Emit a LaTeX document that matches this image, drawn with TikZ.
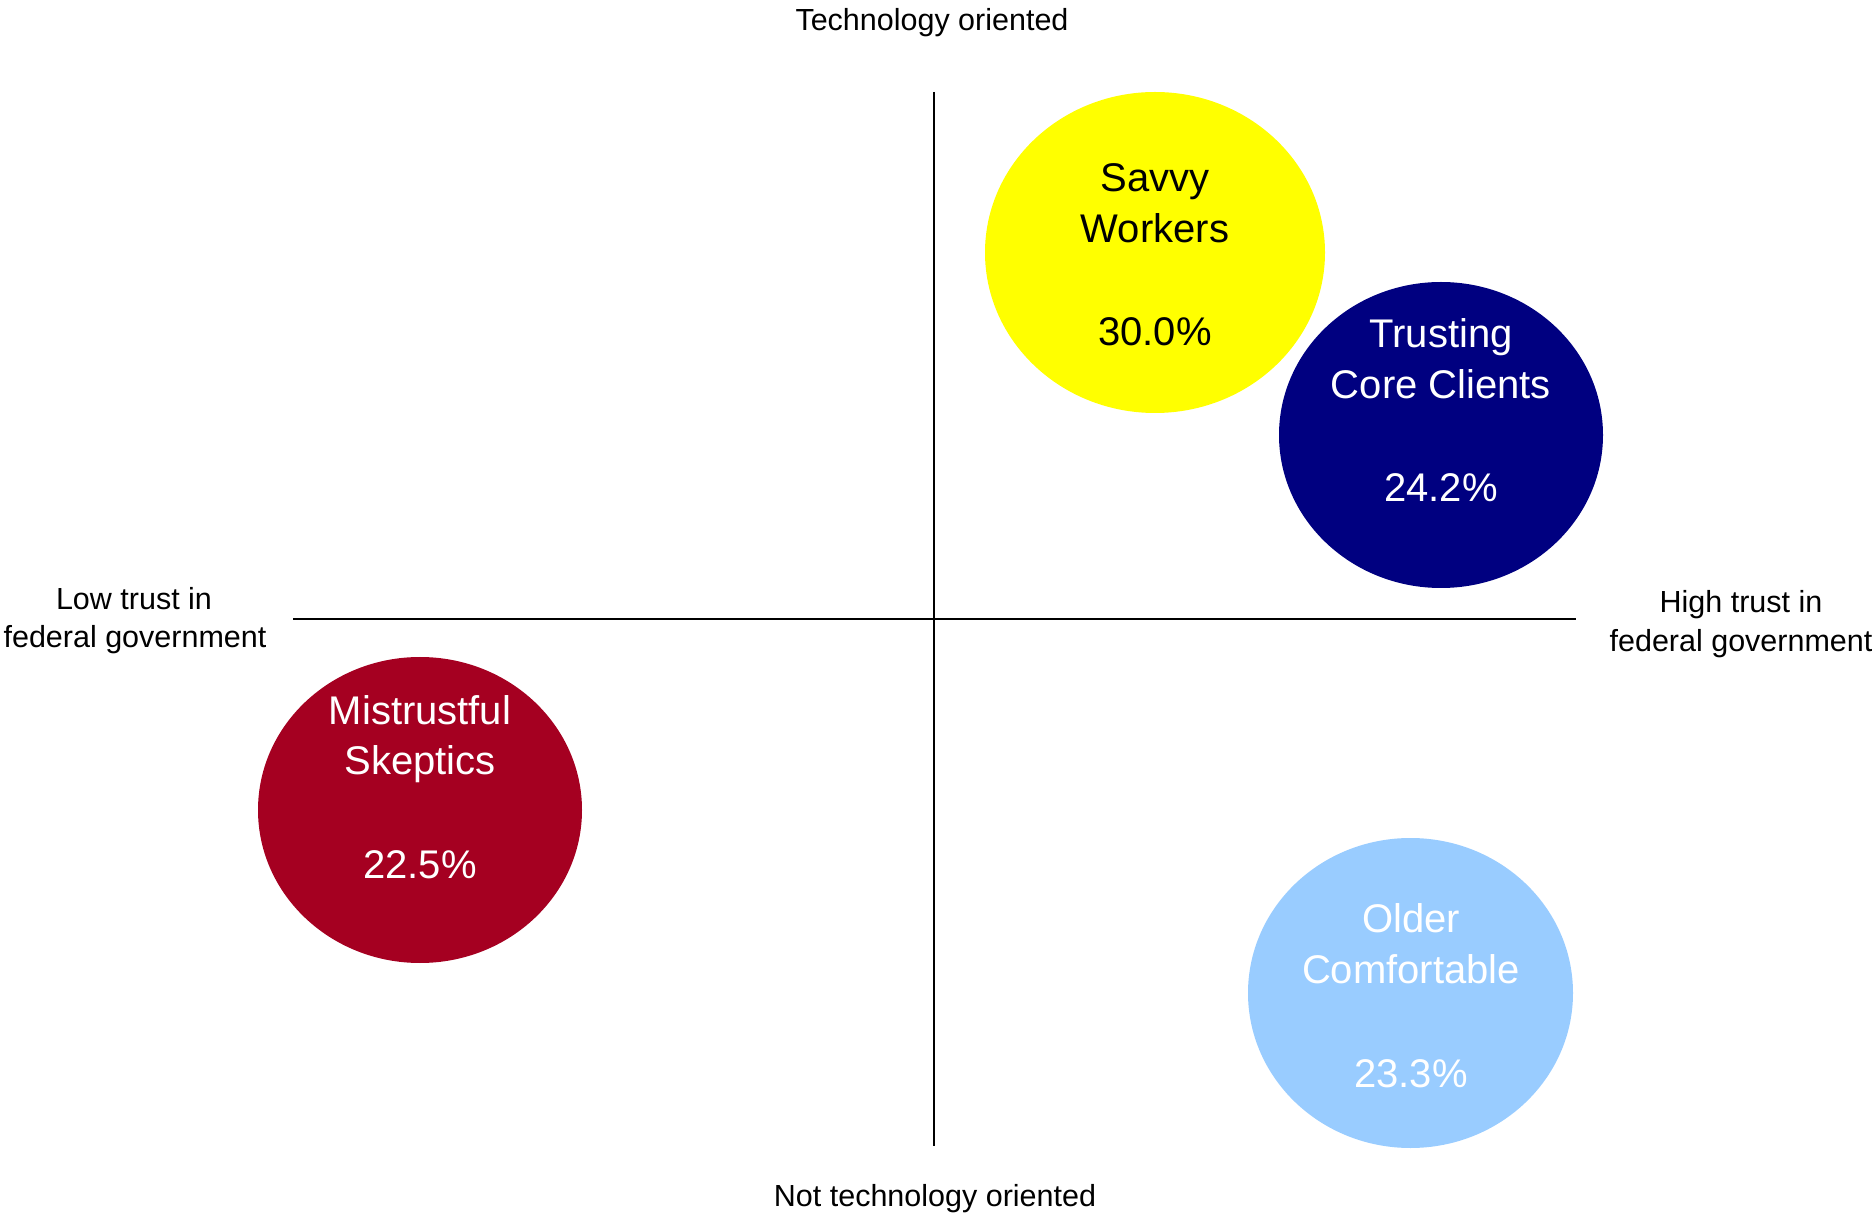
\documentclass[tikz,border=0pt]{standalone}
\usepackage{fontspec}
\setmainfont{Liberation Sans}
\usetikzlibrary{shapes.geometric}
\definecolor{segyellow}{HTML}{FFFF00}
\definecolor{segnavy}{HTML}{000080}
\definecolor{segred}{HTML}{A50021}
\definecolor{seglight}{HTML}{99CCFF}
\begin{document}
\begin{tikzpicture}[x=0.5pt,y=-0.5pt,
  axis/.style={line width=0.7pt,black},
  axislbl/.style={anchor=base,inner sep=0pt,font=\fontsize{15.25pt}{19pt}\selectfont},
  segment/.style={ellipse,draw=none,inner sep=0pt},
  segtext/.style={anchor=base,inner sep=0pt,font=\fontsize{20pt}{25.75pt}\selectfont}]
\useasboundingbox (0,0) rectangle (1875,1213);

% quadrant axes
\coordinate (ytop) at (934,92);
\coordinate (ybot) at (934,1146);
\coordinate (xleft) at (293,619);
\coordinate (xright) at (1576,619);
\draw[axis] (ytop) -- (ybot);
\draw[axis] (xleft) -- (xright);

% axis labels
\node[axislbl] (techtop) at (932,31) {Technology oriented};
\node[axislbl] (technot) at (935,1206) {Not technology oriented};
\node[axislbl] (lowa) at (134,610) {Low trust in};
\node[axislbl] (lowb) at (135,648) {federal government};
\node[axislbl] (higha) at (1741,613) {High trust in};
\node[axislbl] (highb) at (1741,652) {federal government};

% segments
\node[segment,fill=segyellow,minimum width=170pt,minimum height=160.5pt] (savvy) at (1155,252.5) {};
\node[segment,fill=segnavy,minimum width=162pt,minimum height=153pt] (trusting) at (1441,435) {};
\node[segment,fill=segred,minimum width=162pt,minimum height=153pt] (mistrust) at (420,810) {};
\node[segment,fill=seglight,minimum width=162.5pt,minimum height=155pt] (older) at (1410.5,993) {};

% segment labels
\node[segtext,text=black] (savvya) at (1155,192) {Savvy};
\node[segtext,text=black] (savvyb) at (1155,243) {Workers};
\node[segtext,text=black] (savvyc) at (1155,346) {30.0\%};

\node[segtext,text=white] (trusta) at (1441,348) {Trusting};
\node[segtext,text=white] (trustb) at (1441,399) {Core Clients};
\node[segtext,text=white] (trustc) at (1441,502) {24.2\%};

\node[segtext,text=white] (mista) at (420,725) {Mistrustful};
\node[segtext,text=white] (mistb) at (420,775) {Skeptics};
\node[segtext,text=white] (mistc) at (420,878) {22.5\%};

\node[segtext,text=white] (oldera) at (1411,932) {Older};
\node[segtext,text=white] (olderb) at (1411,983) {Comfortable};
\node[segtext,text=white] (olderc) at (1411,1087) {23.3\%};
\end{tikzpicture}
\end{document}
